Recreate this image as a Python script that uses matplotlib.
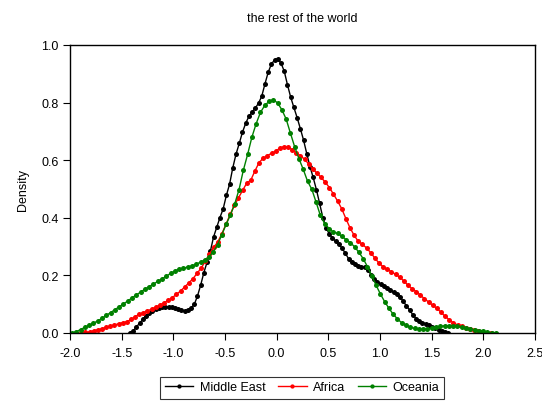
import numpy as np
import matplotlib
matplotlib.use("Agg")
import matplotlib.pyplot as plt

plt.rcParams['font.family'] = ['Liberation Sans', 'DejaVu Sans']

title = "the rest of the world"
series_names = ["Middle East", "Africa", "Oceania"]
series_colors = ["black", "red", "green"]

# evenly spaced kernel-density grids (start, end)
me_range = (-1.42, 1.66)
af_range = (-1.89, 2.07)
oc_range = (-1.98, 2.122)

middle_east = [
    0.000, 0.007, 0.021, 0.034, 0.047, 0.060, 0.070, 0.078, 0.084, 0.088,
    0.090, 0.091, 0.091, 0.089, 0.087, 0.083, 0.079, 0.077, 0.080, 0.087,
    0.099, 0.128, 0.166, 0.210, 0.246, 0.283, 0.333, 0.367, 0.401, 0.431,
    0.478, 0.517, 0.574, 0.621, 0.658, 0.697, 0.728, 0.752, 0.767, 0.781,
    0.798, 0.822, 0.865, 0.905, 0.934, 0.948, 0.952, 0.937, 0.909, 0.862,
    0.819, 0.783, 0.748, 0.710, 0.670, 0.623, 0.578, 0.540, 0.498, 0.450,
    0.401, 0.366, 0.344, 0.330, 0.318, 0.308, 0.294, 0.277, 0.258, 0.247,
    0.240, 0.234, 0.230, 0.228, 0.218, 0.203, 0.187, 0.178, 0.170, 0.163,
    0.156, 0.150, 0.142, 0.135, 0.124, 0.111, 0.094, 0.080, 0.063, 0.050,
    0.041, 0.036, 0.032, 0.027, 0.022, 0.017, 0.012, 0.006, 0.002, 0.000,
]

africa = [
    0.000, 0.002, 0.004, 0.008, 0.011, 0.015, 0.020, 0.024, 0.028, 0.032,
    0.036, 0.039, 0.047, 0.057, 0.065, 0.071, 0.077, 0.083, 0.090, 0.097,
    0.105, 0.113, 0.123, 0.134, 0.146, 0.160, 0.174, 0.189, 0.207, 0.226,
    0.249, 0.275, 0.297, 0.316, 0.345, 0.378, 0.412, 0.443, 0.469, 0.495,
    0.520, 0.531, 0.563, 0.592, 0.607, 0.616, 0.624, 0.631, 0.642, 0.647,
    0.645, 0.637, 0.625, 0.616, 0.603, 0.587, 0.569, 0.555, 0.540, 0.524,
    0.505, 0.482, 0.458, 0.431, 0.397, 0.365, 0.339, 0.318, 0.308, 0.295,
    0.279, 0.260, 0.243, 0.230, 0.221, 0.213, 0.204, 0.194, 0.181, 0.166,
    0.154, 0.144, 0.132, 0.119, 0.108, 0.096, 0.086, 0.072, 0.058, 0.046,
    0.035, 0.028, 0.023, 0.018, 0.014, 0.009, 0.006, 0.003, 0.001, 0.000,
]

oceania = [
    0.000, 0.005, 0.012, 0.020, 0.027, 0.034, 0.042, 0.051, 0.061, 0.071,
    0.081, 0.091, 0.101, 0.111, 0.122, 0.132, 0.142, 0.152, 0.161, 0.170,
    0.179, 0.188, 0.197, 0.207, 0.215, 0.222, 0.225, 0.229, 0.233, 0.239,
    0.246, 0.254, 0.265, 0.282, 0.307, 0.342, 0.378, 0.410, 0.449, 0.498,
    0.565, 0.620, 0.680, 0.727, 0.766, 0.790, 0.804, 0.810, 0.799, 0.775,
    0.743, 0.694, 0.646, 0.605, 0.568, 0.527, 0.499, 0.454, 0.408, 0.380,
    0.362, 0.351, 0.346, 0.336, 0.324, 0.314, 0.299, 0.280, 0.258, 0.230,
    0.199, 0.166, 0.136, 0.109, 0.086, 0.065, 0.049, 0.035, 0.027, 0.020,
    0.016, 0.014, 0.013, 0.014, 0.017, 0.020, 0.023, 0.025, 0.025, 0.025,
    0.023, 0.020, 0.016, 0.014, 0.011, 0.008, 0.006, 0.004, 0.001, 0.000,
]

x_ticks = [-2.0, -1.5, -1.0, -0.5, 0.0, 0.5, 1.0, 1.5, 2.0, 2.5]
y_ticks = [0.0, 0.2, 0.4, 0.6, 0.8, 1.0]

fig = plt.figure(figsize=(5.42, 4.02), dpi=100)
ax = fig.add_axes([70/542, 1-334/402, (535-70)/542, (334-46)/402])

ranges = [me_range, af_range, oc_range]
datas = [middle_east, africa, oceania]
for name, col, rng, ys in zip(series_names, series_colors, ranges, datas):
    xs = np.linspace(rng[0], rng[1], len(ys))
    ax.plot(xs, ys, color=col, lw=1.0, marker='o', markersize=3.6,
            markeredgewidth=0, label=name)

ax.set_xlim(-2.0, 2.5)
ax.set_ylim(0.0, 1.0)
ax.set_xticks(x_ticks)
ax.set_xticklabels([f"{t:.1f}" for t in x_ticks])
ax.set_yticks(y_ticks)
ax.set_yticklabels([f"{t:.1f}" for t in y_ticks])
ax.tick_params(direction='out', length=5, width=0.8, labelsize=9)
ax.tick_params(axis='x', pad=5)
ax.tick_params(axis='y', pad=3)
for s in ax.spines.values():
    s.set_linewidth(1.0)
    s.set_color('black')
ax.set_ylabel("Density", fontsize=9, labelpad=9)
fig.text(302/542, 1-19/402, title, ha='center', va='center', fontsize=9)

leg = fig.legend(loc='center', bbox_to_anchor=(302/542, 1-388.5/402), ncol=3,
                 fontsize=9, frameon=True, fancybox=False, edgecolor='black',
                 handlelength=2.3, handletextpad=0.5, columnspacing=1.0,
                 borderpad=0.4, markerscale=0.85)
leg.get_frame().set_linewidth(0.8)

fig.savefig("out.png", dpi=100)
